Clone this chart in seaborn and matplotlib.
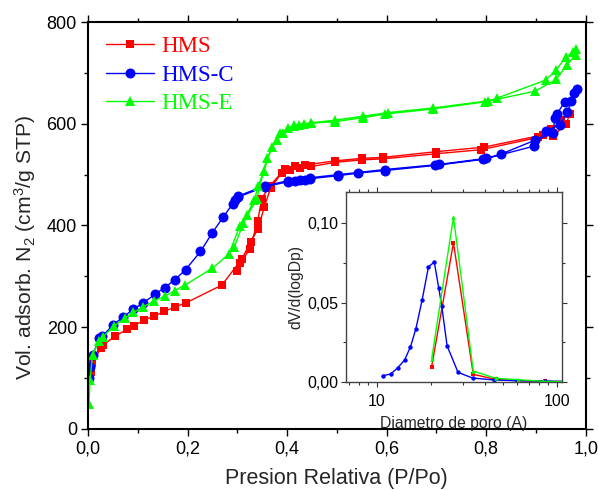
import numpy as np
import pandas as pd
import seaborn as sns
import matplotlib
matplotlib.use("Agg")
import matplotlib.pyplot as plt
from matplotlib.lines import Line2D
from matplotlib.ticker import MultipleLocator, FuncFormatter, FixedLocator, LogLocator, NullFormatter

# ---- N2 isotherms: adsorption branch (increasing P/Po) and desorption branch ----
p_ads_hms = [0.002, 0.005, 0.007, 0.027, 0.030, 0.054, 0.078, 0.092, 0.113, 0.133, 0.153, 0.175,
             0.197, 0.269, 0.309, 0.327, 0.342, 0.354, 0.367, 0.389, 0.406, 0.426, 0.449, 0.496,
             0.550, 0.593, 0.699, 0.790, 0.904, 0.931, 0.951, 0.968]
v_ads_hms = [95, 113, 129, 160, 165, 182, 196, 203, 214, 222, 231, 240,
             248, 283, 334, 368, 394, 436, 474, 503, 510, 513, 516, 524,
             529, 531, 541, 549, 573, 589, 607, 619]
p_des_hms = [0.961, 0.934, 0.914, 0.795, 0.699, 0.593, 0.550, 0.496, 0.436, 0.416, 0.396,
             0.365, 0.349, 0.341, 0.325, 0.305, 0.300]
v_des_hms = [600, 575, 578, 554, 545, 534, 532, 527, 519, 516, 511,
             478, 453, 409, 353, 326, 310]

p_ads_c = [0.001, 0.003, 0.009, 0.023, 0.029, 0.050, 0.070, 0.091, 0.111, 0.135, 0.154, 0.174,
           0.196, 0.226, 0.250, 0.272, 0.291, 0.302, 0.355, 0.402, 0.416, 0.426, 0.436, 0.447,
           0.503, 0.543, 0.596, 0.697, 0.794, 0.896, 0.920, 0.949, 0.963, 0.983]
v_ads_c = [100, 122, 145, 178, 183, 204, 220, 235, 248, 265, 278, 293,
           313, 349, 386, 417, 443, 456, 476, 486, 488, 489, 490, 492,
           498, 503, 508, 518, 530, 556, 586, 598, 624, 668]
p_des_c = [0.976, 0.971, 0.958, 0.942, 0.938, 0.934, 0.899, 0.829, 0.800, 0.705, 0.596,
           0.503, 0.447, 0.402, 0.355, 0.302, 0.295]
v_des_c = [661, 645, 643, 619, 611, 581, 568, 540, 532, 520, 510,
           500, 494, 488, 478, 458, 450]

p_ads_e = [0.002, 0.004, 0.009, 0.022, 0.030, 0.052, 0.074, 0.091, 0.111, 0.133, 0.154, 0.174,
           0.195, 0.250, 0.283, 0.305, 0.319, 0.334, 0.342, 0.354, 0.369, 0.379, 0.391, 0.402,
           0.414, 0.424, 0.434, 0.449, 0.496, 0.553, 0.596, 0.693, 0.797, 0.898, 0.941, 0.962,
           0.980, 0.980]
v_ads_e = [50, 96, 146, 172, 181, 202, 218, 229, 240, 252, 261, 272,
           283, 316, 344, 399, 421, 450, 478, 508, 555, 568, 582, 591,
           596, 598, 599, 601, 604, 612, 619, 629, 643, 664, 687, 716,
           735, 746]
p_des_e = [0.975, 0.960, 0.941, 0.920, 0.821, 0.804, 0.693, 0.603, 0.553, 0.496, 0.449,
           0.414, 0.386, 0.359, 0.339, 0.312, 0.294]
v_des_e = [742, 731, 706, 686, 650, 645, 631, 622, 615, 607, 602,
           597, 581, 532, 453, 404, 358]

# ---- Pore size distributions (inset) ----
d_hms = [20.2, 26.7, 34.4, 45.8, 60.7, 86.0, 120.0]
psd_hms = [0.0097, 0.0878, 0.0048, 0.0017, 0.0008, 0.0004, 0.0002]
d_c = [10.8, 11.96, 13.1, 14.3, 15.4, 16.5, 17.9, 19.4, 20.9, 22.1, 23.0, 24.6, 28.3,
       34.1, 44.7, 60.4, 86.1, 120.0]
psd_c = [0.0040, 0.0050, 0.0090, 0.0139, 0.0221, 0.0334, 0.0519, 0.0727, 0.0756, 0.0595,
         0.0477, 0.0229, 0.0061, 0.0025, 0.0013, 0.0008, 0.0006, 0.0003]
d_e = [20.2, 26.7, 34.4, 45.8, 60.7, 84.0, 120.0]
psd_e = [0.0145, 0.1040, 0.0069, 0.0023, 0.0015, 0.0004, 0.0002]

labels = ["HMS", "HMS-C", "HMS-E"]
colors = ["#ff0000", "#0000ff", "#00ff00"]
markers = ["s", "o", "^"]

sns.set_theme(style="ticks")
plt.rcParams["font.family"] = ["Liberation Sans", "DejaVu Sans"]
plt.rcParams["mathtext.fontset"] = "custom"
plt.rcParams["mathtext.rm"] = "Liberation Sans"
plt.rcParams["mathtext.it"] = "Liberation Sans:italic"

fig = plt.figure(figsize=(5.98, 4.90), dpi=100)
ax = fig.add_axes([0.1472, 0.1245, 0.8322, 0.8306])

iso = [
    (p_ads_hms + p_des_hms, v_ads_hms + v_des_hms),
    (p_ads_c + p_des_c, v_ads_c + v_des_c),
    (p_ads_e + p_des_e, v_ads_e + v_des_e),
]
msizes = [6.4, 7.2, 7.8]
for (p, v), lab, col, mk, ms in zip(iso, labels, colors, markers, msizes):
    df = pd.DataFrame({"p": p, "v": v})
    sns.lineplot(data=df, x="p", y="v", sort=False, estimator=None, ax=ax,
                 color=col, lw=1.0, marker=mk, markersize=ms,
                 markeredgecolor=col, markeredgewidth=0, legend=False)

ax.set_xlim(0, 1.0)
ax.set_ylim(0, 800)
ax.xaxis.set_major_locator(MultipleLocator(0.2))
ax.xaxis.set_minor_locator(MultipleLocator(0.1))
ax.yaxis.set_major_locator(MultipleLocator(200))
ax.yaxis.set_minor_locator(MultipleLocator(100))
ax.xaxis.set_major_formatter(FuncFormatter(lambda x, _: f"{x:.1f}".replace(".", ",")))
ax.yaxis.set_major_formatter(FuncFormatter(lambda y, _: f"{y:.0f}"))
ax.tick_params(which="both", direction="out", top=True, right=True, width=1.0, colors="black")
ax.tick_params(which="major", length=5, labelsize=13, pad=3)
ax.tick_params(which="minor", length=3)
for s in ax.spines.values():
    s.set_visible(True)
    s.set_linewidth(1.5)
    s.set_color("black")
ax.set_xlabel("Presion Relativa (P/Po)", fontsize=15.5, labelpad=8)
ax.set_ylabel("Vol. adsorb. N$_2$ (cm$^3$/g STP)", fontsize=15.2)
ax.yaxis.set_label_coords(-0.101, 0.447)

handles = [Line2D([], [], color=c, lw=1.0, marker=m, markersize=ms, markeredgewidth=0)
           for c, m, ms in zip(colors, markers, msizes)]
leg = ax.legend(handles, labels, loc="upper left", bbox_to_anchor=(0.0, 1.01), frameon=False,
                prop={"family": "Liberation Serif", "size": 16.5}, handlelength=2.1,
                handletextpad=0.3, labelspacing=0.32, borderaxespad=0.4, numpoints=1)
for t, c in zip(leg.get_texts(), colors):
    t.set_color(c)

# ---- inset: pore size distribution ----
ins = fig.add_axes([0.5781, 0.2204, 0.3612, 0.3884])
for d, y, col, mk in zip([d_hms, d_c, d_e], [psd_hms, psd_c, psd_e], colors, markers):
    df = pd.DataFrame({"d": d, "y": y})
    sns.lineplot(data=df, x="d", y="y", sort=False, estimator=None, ax=ins,
                 color=col, lw=1.0, marker=mk, markersize=3.2,
                 markeredgecolor=col, markeredgewidth=0, legend=False)
ins.set_xscale("log")
ins.set_xlim(6.73, 106.6)
ins.set_ylim(0, 0.12)
ins.xaxis.set_major_locator(FixedLocator([10, 100]))
ins.xaxis.set_major_formatter(FuncFormatter(lambda x, _: f"{x:.0f}"))
ins.xaxis.set_minor_locator(LogLocator(base=10, subs=np.arange(2, 10)))
ins.xaxis.set_minor_formatter(NullFormatter())
ins.yaxis.set_major_locator(MultipleLocator(0.05))
ins.yaxis.set_minor_locator(MultipleLocator(0.025))
ins.yaxis.set_major_formatter(FuncFormatter(lambda y, _: f"{y:.2f}".replace(".", ",")))
ins.tick_params(which="both", direction="out", top=True, right=True, width=0.8, colors="#333333",
                labelcolor="black")
ins.tick_params(which="major", length=3.5, labelsize=11.5, pad=2)
ins.tick_params(which="minor", length=2)
ins.tick_params(axis="x", which="major", pad=5)
for s in ins.spines.values():
    s.set_visible(True)
    s.set_linewidth(1.0)
    s.set_color("#444444")
ins.set_xlabel("Diametro de poro (A)", fontsize=11.3, labelpad=5)
ins.set_ylabel("dV/d(logDp)", fontsize=11.3, labelpad=3)

fig.savefig("out.png", dpi=100, facecolor="white")
